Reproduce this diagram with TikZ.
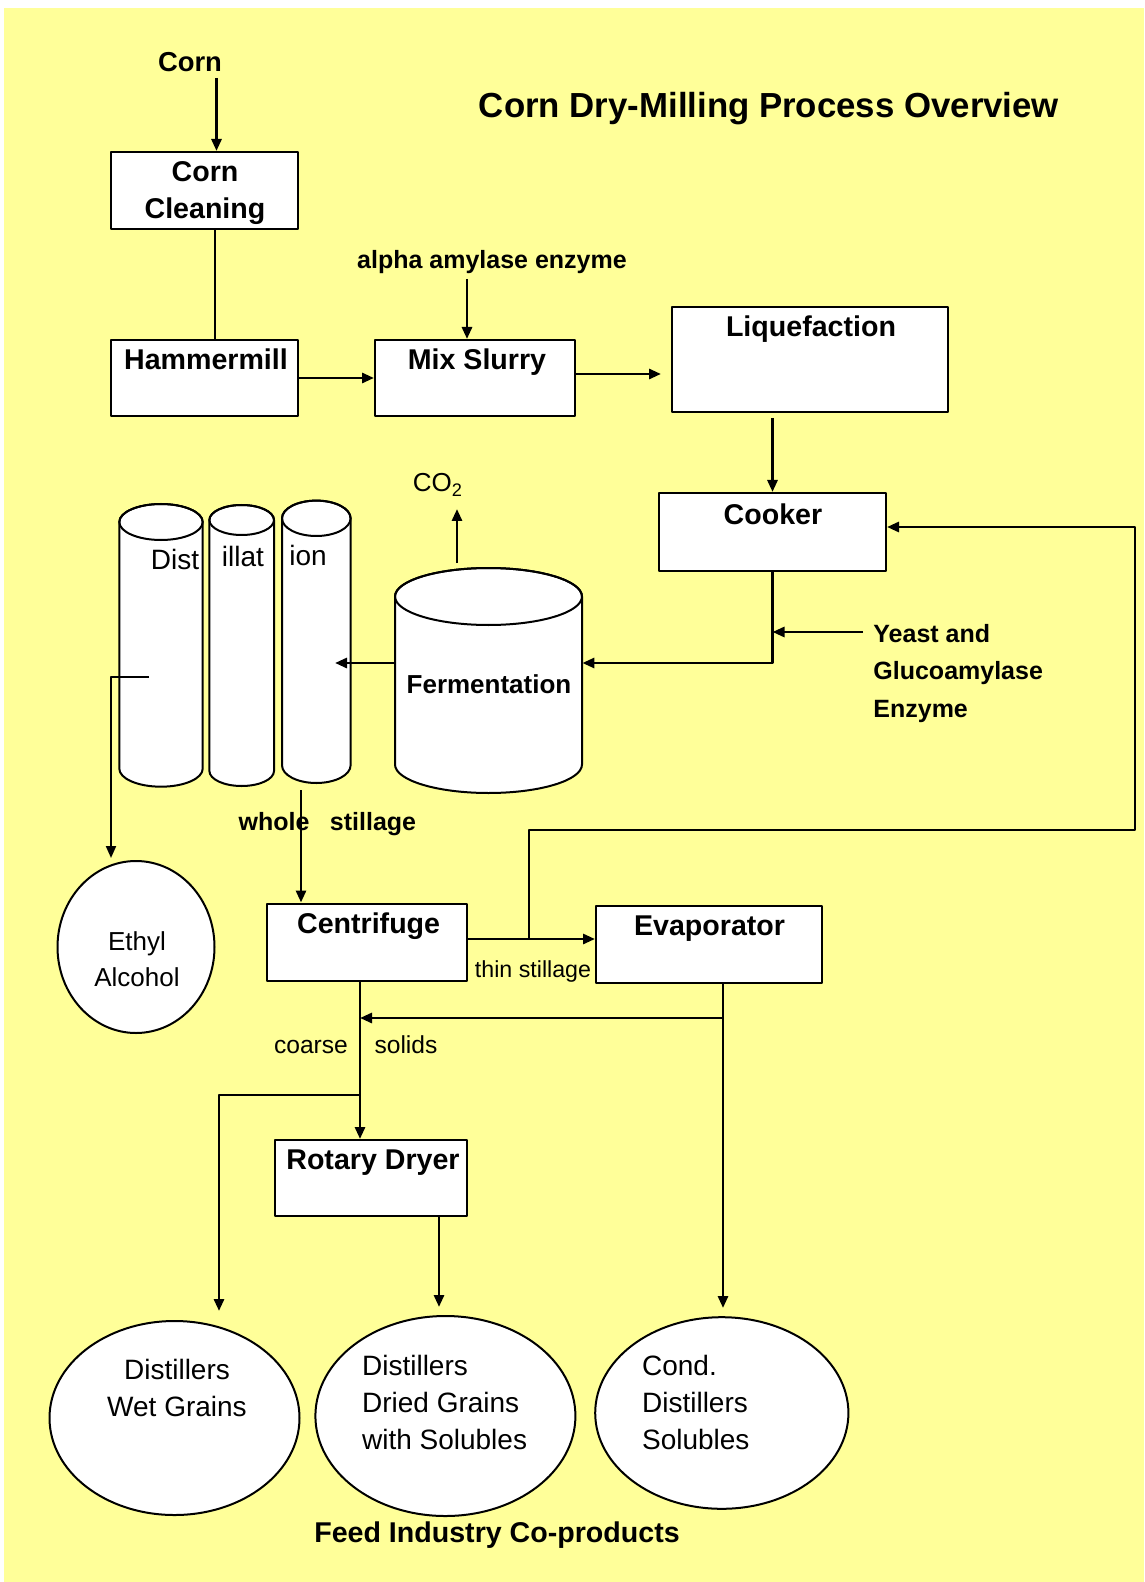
\documentclass[tikz,border=0pt]{standalone}
\usepackage{fontspec}
\setmainfont{Liberation Sans}
\usetikzlibrary{arrows.meta,shapes.geometric}
\definecolor{pad}{HTML}{FFFF99}
\tikzset{
  unit/.style={draw, line width=1pt, fill=white, inner sep=0pt},
  pod/.style={ellipse, draw, line width=1pt, fill=white, inner sep=0pt},
  flow/.style={line width=1.4pt},
  big/.style={font=\fontsize{14.3}{17}\selectfont\bfseries, inner sep=0pt, anchor=base},
  tag/.style={font=\fontsize{12.5}{15}\selectfont\bfseries, inner sep=0pt, anchor=base},
  txt/.style={font=\fontsize{14}{17}\selectfont, inner sep=0pt, anchor=base},
}
\newcommand{\tank}[5]{%
  \filldraw[fill=white, line width=1pt] (#1-#4,#2) -- (#1-#4,#3)
    arc[start angle=180, end angle=0, x radius=#4, y radius=#5] -- (#1+#4,#2)
    arc[start angle=0, end angle=-180, x radius=#4, y radius=#5] -- cycle;
  \draw[line width=1pt] (#1,#2) ellipse[x radius=#4, y radius=#5];}
\begin{document}
\begin{tikzpicture}[x=0.5pt, y=-0.5pt, line join=round, >={Triangle[length=6pt,width=5pt]}]
	\fill[white] (0,0) rectangle (1144,1582);
	\fill[pad] (4,8) rectangle (1144,1582);
	\useasboundingbox (0,0) rectangle (1144,1582);
	\tank{161}{522}{768.7}{41.7}{18}
	\tank{241.7}{520}{771}{32.3}{15}
	\tank{316.3}{518.3}{765.3}{34.3}{17.7}
	\tank{488.5}{596.5}{764.5}{93.5}{28.5}
	\node[inner sep=0pt, minimum width=93.5pt, minimum height=0pt] (ferm) at (488.5,663) {};
	\node[unit, minimum width=93.5pt, minimum height=38.5pt] (clean) at (204.5,190.5) {};
	\node[unit, minimum width=93.5pt, minimum height=38pt] (hammer) at (204.5,378) {};
	\node[unit, minimum width=100pt, minimum height=38pt] (slurry) at (475,378) {};
	\node[unit, minimum width=138pt, minimum height=52.5pt] (liquef) at (810,359.5) {};
	\node[unit, minimum width=113.5pt, minimum height=39pt] (cooker) at (772.5,532) {};
	\node[unit, minimum width=100pt, minimum height=38.5pt] (cent) at (367,942) {};
	\node[unit, minimum width=113pt, minimum height=38.4pt] (evap) at (709,944.4) {};
	\node[unit, minimum width=96pt, minimum height=38pt] (dryer) at (371,1178) {};
	\node[pod, minimum width=78.5pt, minimum height=86pt] (ethyl) at (136,947) {};
	\node[pod, minimum width=125pt, minimum height=97pt] (wet) at (174.5,1418) {};
	\node[pod, minimum width=130pt, minimum height=100pt] (ddgs) at (445.4,1416) {};
	\node[pod, minimum width=126.6pt, minimum height=95.8pt] (cds) at (721.8,1413) {};
	\coordinate (feed) at (216.5,78);
	\coordinate (enz) at (467,279);
	\coordinate (liqin) at (661,374);
	\coordinate (liqout) at (772.5,418);
	\coordinate (split) at (529,939);
	\coordinate (loop) at (1135,830);
	\coordinate (back) at (1135,527);
	\coordinate (yst) at (863,632);
	\coordinate (vent) at (457,563);
	\coordinate (col3in) at (335,663);
	\coordinate (col1out) at (149,677);
	\coordinate (ethin) at (111,858);
	\coordinate (stl) at (301,790);
	\coordinate (solid) at (360,1095);
	\coordinate (wetin) at (219,1311);
	\coordinate (conc) at (723,1018);
	\coordinate (condin) at (723,1308);
	\coordinate (ddin) at (439,1307);
	\draw[flow,->] (feed) -- (feed |- clean.north);
	\draw[flow] ([xshift=5.25pt]clean.south) -- ([xshift=5.25pt]hammer.north);
	\draw[flow,->] (hammer.east) -- (slurry.west);
	\draw[flow,->] (enz) -- (enz |- slurry.north);
	\draw[flow,->] (liqin -| slurry.east) -- (liqin);
	\draw[flow,->] (liqout) -- (cooker.north);
	\draw[flow,->] (split) |- (loop) -- (back) -- (back -| cooker.east);
	\draw[flow,->] (cooker.south) |- (ferm.east);
	\draw[flow,->] (yst) -- (yst -| cooker.south);
	\draw[flow,->] (vent) -- ++(0,-54);
	\draw[flow,->] (ferm.west) -- (col3in);
	\draw[line width=1pt,->] (col1out) -| (ethin);
	\draw[flow,->] (stl) -- (stl |- cent.north);
	\draw[flow,->] (split -| cent.east) -- (split -| evap.west);
	\draw[flow,->] (solid |- cent.south) -- (solid |- dryer.north);
	\draw[flow,->] (solid) -| (wetin);
	\draw[flow,->] (conc |- evap.south) -- (condin);
	\draw[flow,->] (conc) -- (conc -| solid);
	\draw[flow,->] (ddin |- dryer.south) -- (ddin);
	\node[big, font=\fontsize{13.7}{17}\selectfont\bfseries] (corn) at (190,71.7) {Corn};
	\node[big, font=\fontsize{17.4}{20}\selectfont\bfseries] (title) at (769,117.3) {Corn Dry-Milling Process Overview};
	\node[big] (cleant) at (205,181.7) {Corn};
	\node[big] (cleanb) at (205,218.3) {Cleaning};
	\node[big] (hammert) at (206,370) {Hammermill};
	\node[big] (slurryt) at (477,370) {Mix Slurry};
	\node[tag] (alpha) at (492,269) {alpha amylase enzyme};
	\node[big] (liqueft) at (811,337) {Liquefaction};
	\node[big] (cookert) at (773,524.5) {Cooker};
	\node[txt, font=\fontsize{13}{15}\selectfont] (co2) at (438,492) {CO\textsubscript{2}};
	\node[txt] (dist1) at (175,569) {Dist};
	\node[txt] (dist2) at (243,567) {illat};
	\node[txt] (dist3) at (308,565) {ion};
	\node[big, font=\fontsize{13}{15}\selectfont\bfseries] (fermt) at (489,693.5) {Fermentation};
	\node[tag, anchor=base west] (yeast1) at (873,642.7) {Yeast and};
	\node[tag, anchor=base west] (yeast2) at (873,679.3) {Glucoamylase};
	\node[tag, anchor=base west] (yeast3) at (873,717.3) {Enzyme};
	\node[txt, font=\fontsize{13}{15}\selectfont] (etht) at (137,950) {Ethyl};
	\node[txt, font=\fontsize{13}{15}\selectfont] (ethb) at (137,986) {Alcohol};
	\node[tag] (whole) at (274,830) {whole};
	\node[tag] (stillage) at (373,830) {stillage};
	\node[big] (centt) at (368.6,933) {Centrifuge};
	\node[big] (evapt) at (709.6,935) {Evaporator};
	\node[txt, font=\fontsize{11.6}{14}\selectfont] (thin) at (533,977) {thin stillage};
	\node[txt, font=\fontsize{12.3}{14}\selectfont] (coarse) at (311,1053) {coarse};
	\node[txt, font=\fontsize{12.3}{14}\selectfont] (solids) at (406,1053) {solids};
	\node[big] (dryert) at (373,1169) {Rotary Dryer};
	\node[txt] (wet1) at (177,1379) {Distillers};
	\node[txt] (wet2) at (177,1416) {Wet Grains};
	\node[txt, anchor=base west] (ddgs1) at (361.7,1375) {Distillers};
	\node[txt, anchor=base west] (ddgs2) at (361.7,1412.7) {Dried Grains};
	\node[txt, anchor=base west] (ddgs3) at (361.7,1449) {with Solubles};
	\node[txt, anchor=base west] (cds1) at (641.7,1375) {Cond.};
	\node[txt, anchor=base west] (cds2) at (641.7,1412.7) {Distillers};
	\node[txt, anchor=base west] (cds3) at (641.7,1449) {Solubles};
	\node[big] (coprod) at (497,1542) {Feed Industry Co-products};
\end{tikzpicture}
\end{document}
